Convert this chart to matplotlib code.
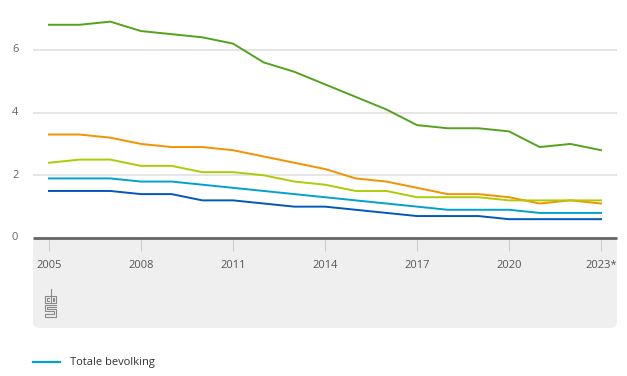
import matplotlib.pyplot as plt
from matplotlib.patches import FancyBboxPatch
from matplotlib.lines import Line2D
import numpy as np

plt.rcParams['font.family'] = ['Open Sans', 'DejaVu Sans']

years = list(range(2005, 2024))
tick_years = [2005, 2008, 2011, 2014, 2017, 2020, 2023]
tick_labels = ['2005', '2008', '2011', '2014', '2017', '2020', '2023*']
y_ticks = [0, 2, 4, 6]

# values (%)
green = [6.8, 6.8, 6.9, 6.6, 6.5, 6.4, 6.2, 5.6, 5.3, 4.9, 4.5, 4.1, 3.6, 3.5, 3.5, 3.4, 2.9, 3.0, 2.8]
orange = [3.3, 3.3, 3.2, 3.0, 2.9, 2.9, 2.8, 2.6, 2.4, 2.2, 1.9, 1.8, 1.6, 1.4, 1.4, 1.3, 1.1, 1.2, 1.1]
yellow = [2.4, 2.5, 2.5, 2.3, 2.3, 2.1, 2.1, 2.0, 1.8, 1.7, 1.5, 1.5, 1.3, 1.3, 1.3, 1.2, 1.2, 1.2, 1.2]
totaal = [1.9, 1.9, 1.9, 1.8, 1.8, 1.7, 1.6, 1.5, 1.4, 1.3, 1.2, 1.1, 1.0, 0.9, 0.9, 0.9, 0.8, 0.8, 0.8]
blauw = [1.5, 1.5, 1.5, 1.4, 1.4, 1.2, 1.2, 1.1, 1.0, 1.0, 0.9, 0.8, 0.7, 0.7, 0.7, 0.6, 0.6, 0.6, 0.6]

W, H = 627, 376
fig = plt.figure(figsize=(W / 100, H / 100), dpi=100)

def px(x, y):
    # pixel (top-left origin) to figure fraction
    return x / W, 1 - y / H

# grey band under the axis
band = FancyBboxPatch(px(33, 328), (617 - 33) / W, (328 - 238) / H,
                      boxstyle='round,pad=0,rounding_size=0.012',
                      transform=fig.transFigure, facecolor='#efefef', edgecolor='none', zorder=-5)
fig.patches.append(band)

ax = fig.add_axes([33 / W, 1 - 238 / H, (617 - 33) / W, 238 / H])
ax.set_facecolor('none')

ax.plot(years, green, color='#53a31d', lw=1.4)
ax.plot(years, orange, color='#f39200', lw=1.4)
ax.plot(years, yellow, color='#afcb05', lw=1.4)
ax.plot(years, totaal, color='#00a1cd', lw=1.4, label='Totale bevolking')
ax.plot(years, blauw, color='#0058b8', lw=1.4)

ax.set_xlim(2004.48, 2023.52)
ax.set_ylim(0, 7.59)
ax.set_yticks([2, 4, 6])
ax.set_yticklabels([])
ax.grid(axis='y', color='#e0e0e0', lw=1.2)
ax.tick_params(axis='y', length=0)
# y labels sit at the far left edge of the figure
for v in y_ticks:
    ax.text(-21 / 584, v, str(v), transform=ax.get_yaxis_transform(), fontsize=8,
            color='#666666', ha='left', va='center', clip_on=False)
ax.set_xticks(tick_years)
ax.set_xticklabels(tick_labels)
ax.tick_params(axis='x', length=9, width=0.8, color='#cccccc', labelsize=8,
               labelcolor='#555555', pad=7, direction='out')
for s in ['top', 'right', 'left']:
    ax.spines[s].set_visible(False)
ax.spines['bottom'].set_color('#666666')
ax.spines['bottom'].set_linewidth(2)
ax.spines['bottom'].set_capstyle('butt')

# cbs logo, rough line drawing
lc = '#8a8a8a'
def seg(xs, ys):
    pts = [px(x, y) for x, y in zip(xs, ys)]
    fig.add_artist(Line2D([p[0] for p in pts], [p[1] for p in pts], color=lc, lw=0.8,
                          transform=fig.transFigure))
seg([50, 45, 45, 50], [296, 296, 303, 303])
seg([49, 47, 47, 49], [298, 298, 301, 301])
seg([51, 51, 56, 56, 51], [289, 303, 303, 296, 296])
seg([53, 54, 54, 53, 53], [298, 298, 301, 301, 298])
seg([56, 45, 45, 54, 54, 45, 45, 56, 56, 47, 47, 56], [305, 305, 311, 311, 314, 314, 317, 317, 309, 309, 307, 307])

# legend
l1, l2 = px(33, 362), px(60, 362)
fig.add_artist(Line2D([l1[0], l2[0]], [l1[1], l2[1]], color='#00a1cd', lw=1.6, transform=fig.transFigure))
t = px(70, 362)
fig.text(t[0], t[1], 'Totale bevolking', fontsize=8, color='#333333', va='center', ha='left')

fig.savefig('out.png', dpi=100)
